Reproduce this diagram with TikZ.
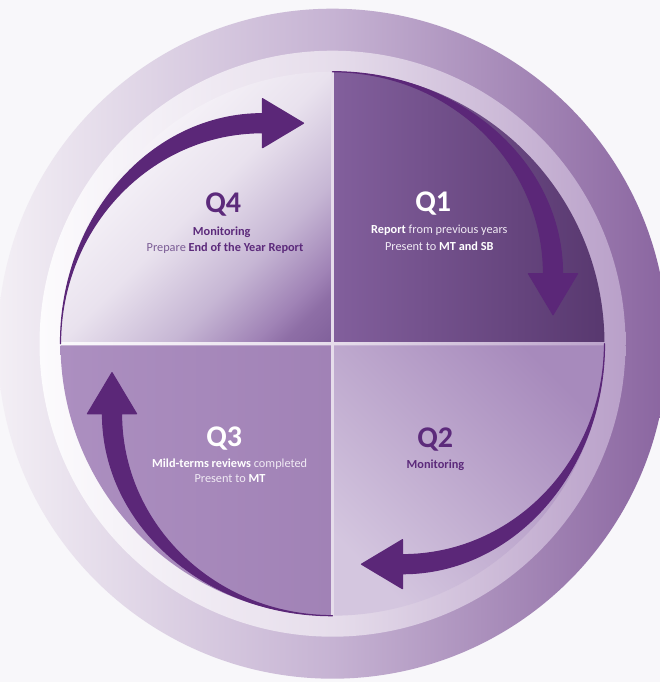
\documentclass[tikz,border=0pt]{standalone}
\usepackage{fontspec}
\setmainfont{Carlito}
% palette
\definecolor{bg}{HTML}{F8F7FA}
\definecolor{ringL}{HTML}{F3EFF5}
\definecolor{ringM}{HTML}{C6B3D3}
\definecolor{ringR}{HTML}{8A65A0}
\definecolor{lightL}{HTML}{FCFBFD}
\definecolor{lightM}{HTML}{E6DDEB}
\definecolor{lightR}{HTML}{B9A0C9}
\definecolor{qoneL}{HTML}{825F9C}
\definecolor{qoneR}{HTML}{58386F}
\definecolor{qtwoL}{HTML}{D4C6DF}
\definecolor{qtwoR}{HTML}{A78ABC}
\definecolor{qthreeL}{HTML}{AC8FC0}
\definecolor{qthreeR}{HTML}{A182B6}
\definecolor{qfourR}{HTML}{82629C}
\definecolor{qfourA}{HTML}{8E6EA6}
\definecolor{qfourB}{HTML}{A083B6}
\definecolor{qfourC}{HTML}{C6B6D4}
\definecolor{qfourM}{HTML}{E9E2EE}
\definecolor{qfourW}{HTML}{F7F4F9}
\definecolor{arrowc}{HTML}{5B2778}
\definecolor{txtdark}{HTML}{5C2A7B}
\definecolor{txtsoft}{HTML}{7B5C95}
\definecolor{txtpale}{HTML}{F0EAF4}
% white top-left corner fading into purple at the centre corner
\pgfdeclareverticalshading{qfourshade}{100bp}{%
  color(0bp)=(qfourR); color(15bp)=(qfourR); color(20.7bp)=(qfourA);
  color(24.5bp)=(qfourB); color(35.2bp)=(qfourC); color(50bp)=(qfourM);
  color(67bp)=(qfourW); color(85bp)=(white); color(100bp)=(white)}
\begin{document}
\begin{tikzpicture}[x=1pt,y=1pt]
\tikzset{
  title/.style={anchor=base, inner sep=0pt, font=\fontsize{30}{36}\selectfont\bfseries},
  line/.style={anchor=base, inner sep=0pt, font=\fontsize{12.3}{15}\selectfont},
  cyclearrow/.pic={
    \fill[arrowc, draw=arrowc, line width=1.2pt, line join=round]
      (-272,0) arc[start angle=180, end angle=90, x radius=202, y radius=230]
      -- (-70,245) -- (-29,220.5) -- (-70,196) -- (-70,211)
      arc[start angle=90, end angle=180, x radius=202, y radius=211] -- cycle;
  }
}

\useasboundingbox (0,0) rectangle (660,682);
\fill[bg] (0,0) rectangle (660,682);
\coordinate (C) at (332.5,338.3);

% the two rings
\shade[left color=ringL, right color=ringR, middle color=ringM] (C) circle[radius=335];
\shade[left color=lightL, right color=lightR, middle color=lightM] (C) circle[radius=293];

% four quadrants
\begin{scope}[shift={(C)}]
  \shade[left color=qoneL, right color=qoneR]
    (1.7,1.7) -- (1.7,272) arc[start angle=89.64, end angle=0.36, radius=272] -- cycle;
  \shade[top color=qtwoL, bottom color=qtwoR, shading angle=135]
    (1.7,-1.7) -- (272,-1.7) arc[start angle=-0.36, end angle=-89.64, radius=272] -- cycle;
  \shade[left color=qthreeL, right color=qthreeR]
    (-1.7,-1.7) -- (-1.7,-272) arc[start angle=-90.36, end angle=-179.64, radius=272] -- cycle;
  \shade[shading=qfourshade, shading angle=45]
    (-1.7,1.7) -- (-272,1.7) arc[start angle=179.64, end angle=90.36, radius=272] -- cycle;
\end{scope}

% cycle arrows, one per quarter
\pic at (C) {cyclearrow};
\pic[rotate=-90] at (C) {cyclearrow};
\pic[rotate=-180] at (C) {cyclearrow};
\pic[rotate=-270] at (C) {cyclearrow};

% Q4
\node[title, text=txtdark] (q4) at (223.3,469.6) {Q4};
\node[line, text=txtdark] (q4a) at (221.7,446.5) {\bfseries Monitoring};
\node[line, text=txtsoft] (q4b) at (225,430.8) {Prepare \textcolor{txtdark}{\bfseries End of the Year Report}};
% Q1
\node[title, text=white] (q1) at (433.3,470.3) {Q1};
\node[line, text=txtpale] (q1a) at (439.3,448) {\textcolor{white}{\bfseries Report} from previous years};
\node[line, text=txtpale] (q1b) at (439.3,431.3) {Present to \textcolor{white}{\bfseries MT and SB}};
% Q2
\node[title, text=txtdark] (q2) at (435.3,234.6) {Q2};
\node[line, text=txtdark] (q2a) at (435.5,213.7) {\bfseries Monitoring};
% Q3
\node[title, text=white] (q3) at (224.3,235.3) {Q3};
\node[line, text=txtpale] (q3a) at (229.7,214.3) {\textcolor{white}{\bfseries Mild-terms reviews} completed};
\node[line, text=txtpale] (q3b) at (230,199.7) {Present to \textcolor{white}{\bfseries MT}};
\end{tikzpicture}
\end{document}
